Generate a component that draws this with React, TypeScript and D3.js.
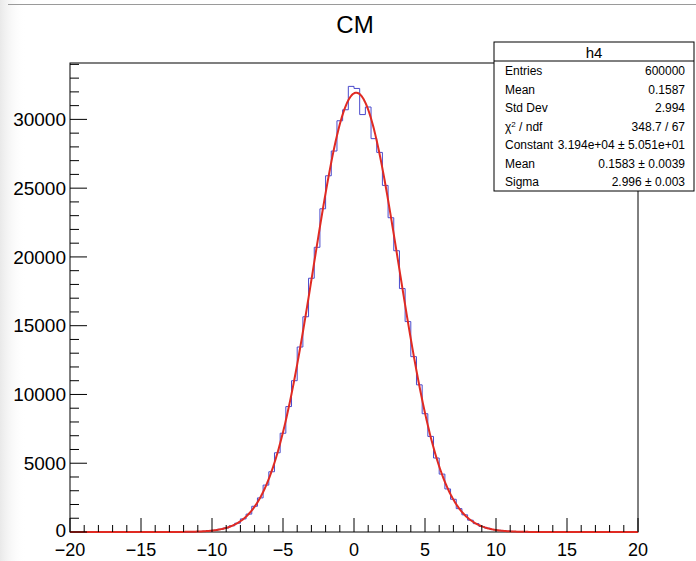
import React from "react";
import * as d3 from "d3";

// Histogram h4: 100 bins from -20 to 20 (bin width 0.4)
const xMin = -20;
const xMax = 20;
const binWidth = 0.4;
const binCounts: number[] = [
  0, 0, 0, 0, 0, 0, 0, 0, 0, 0,
  0, 0, 0, 0, 0, 0, 1, 2, 4, 6,
  12, 18, 33, 49, 84, 124, 201, 296, 452, 640,
  951, 1300, 1870, 2480, 3410, 4380, 5760, 7180, 9120, 11000,
  13450, 15650, 18450, 20700, 23500, 25900, 27700, 29900, 30700, 32400,
  32250, 30350, 30900, 28600, 27600, 25200, 22850, 20450, 17700, 15300,
  12750, 10700, 8600, 6950, 5380, 4210, 3130, 2380, 1700, 1250,
  860, 610, 400, 280, 176, 118, 70, 48, 27, 18,
  9, 5, 3, 2, 1, 0, 0, 0, 0, 0,
  0, 0, 0, 0, 0, 0, 0, 0, 0, 0,
];

// Gaussian fit parameters (from the stats box)
const fitConstant = 31940;
const fitMean = 0.1583;
const fitSigma = 2.996;

const yMax = 34100;
const xTickLabels = [-20, -15, -10, -5, 0, 5, 10, 15, 20];
const yTickLabels = [0, 5000, 10000, 15000, 20000, 25000, 30000];

const statLabels = ["Entries", "Mean", "Std Dev", "χ2", "Constant", "Mean", "Sigma"];
const statValues = [
  "600000",
  "0.1587",
  "2.994",
  "348.7 / 67",
  "3.194e+04 ± 5.051e+01",
  "0.1583 ± 0.0039",
  "2.996 ± 0.003",
];

const W = 696;
const H = 561;
const FL = 70;
const FR = 638;
const FT = 63;
const FB = 532;
const FONT = "'Liberation Sans', Arial, Helvetica, sans-serif";

export default function App() {
  const x = d3.scaleLinear().domain([xMin, xMax]).range([FL, FR]);
  const y = d3.scaleLinear().domain([0, yMax]).range([FB, FT]);

  const stepPts: [number, number][] = [];
  binCounts.forEach((c, i) => {
    const x0 = xMin + i * binWidth;
    const x1 = x0 + binWidth;
    stepPts.push([x(x0), y(c)]);
    stepPts.push([x(x1), y(c)]);
  });
  const histPath = d3.line()(stepPts) || "";

  const fitPts: [number, number][] = d3
    .range(0, 801)
    .map((k) => xMin + ((xMax - xMin) * k) / 800)
    .map((v) => [
      x(v),
      y(fitConstant * Math.exp(-0.5 * ((v - fitMean) / fitSigma) ** 2)),
    ]);
  const fitPath = d3.line().curve(d3.curveLinear)(fitPts) || "";

  const xMinor = d3.range(xMin, xMax + 0.001, 1);
  const yMinor = d3.range(0, yMax, 1000);

  const fmt = (v: number) => (v < 0 ? "\u2212" + Math.abs(v) : String(v));

  const boxL = 494;
  const boxR = 694;
  const boxT = 42;
  const boxB = 191;
  const rowY0 = 71;
  const rowDy = 18.5;

  return (
    <svg
      width={W}
      height={H}
      style={{ position: "absolute", left: 0, top: 0, background: "#fff" }}
      fontFamily={FONT}
    >
      <defs>
        <linearGradient id="leftfade" x1="0" x2="1" y1="0" y2="0">
          <stop offset="0" stopColor="#e9e9e9" />
          <stop offset="1" stopColor="#ffffff" stopOpacity="0" />
        </linearGradient>
      </defs>
      <rect x={0} y={0} width={W} height={H} fill="#fff" />
      <rect x={0} y={0} width={26} height={H} fill="url(#leftfade)" />
      <line x1={8} x2={W} y1={4.5} y2={4.5} stroke="#9a9a9a" strokeWidth={1} />

      {/* Title */}
      <text x={355} y={33} fontSize={24} textAnchor="middle" fill="#000">
        CM
      </text>

      {/* Frame */}
      <rect x={FL} y={FT} width={FR - FL} height={FB - FT} fill="none" stroke="#000" strokeWidth={1} />

      {/* Histogram */}
      <path d={histPath} fill="none" stroke="#4a4acc" strokeWidth={1} />
      {/* Fit */}
      <path d={fitPath} fill="none" stroke="#e02a22" strokeWidth={2} />

      {/* X axis ticks */}
      {xMinor.map((v) => {
        const major = Math.abs(v % 5) < 1e-9;
        return (
          <line
            key={"xt" + v}
            x1={x(v)}
            x2={x(v)}
            y1={FB}
            y2={FB - (major ? 14 : 7)}
            stroke="#000"
            strokeWidth={1}
          />
        );
      })}
      {xTickLabels.map((v) => (
        <text key={"xl" + v} x={x(v)} y={556} fontSize={18} textAnchor="middle" fill="#000">
          {fmt(v)}
        </text>
      ))}

      {/* Y axis ticks */}
      {yMinor.map((v) => {
        const major = v % 5000 === 0;
        return (
          <line
            key={"yt" + v}
            x1={FL}
            x2={FL + (major ? 17 : 9)}
            y1={y(v)}
            y2={y(v)}
            stroke="#000"
            strokeWidth={1}
          />
        );
      })}
      {yTickLabels.map((v) => (
        <text
          key={"yl" + v}
          x={66}
          y={y(v)}
          dy={v === 0 ? "0.25em" : "0.35em"}
          fontSize={19}
          textAnchor="end"
          fill="#000"
        >
          {fmt(v)}
        </text>
      ))}

      {/* Stats box */}
      <rect x={boxL} y={boxT} width={boxR - boxL} height={boxB - boxT} fill="#fff" stroke="#000" strokeWidth={1} />
      <line x1={boxL} x2={boxR} y1={61} y2={61} stroke="#000" strokeWidth={1} />
      <text x={(boxL + boxR) / 2} y={53} dy="0.35em" fontSize={15} textAnchor="middle" fill="#000">
        h4
      </text>
      {statLabels.map((lab, i) => (
        <text key={"sl" + i} x={505} y={rowY0 + i * rowDy} dy="0.35em" fontSize={12} fill="#000">
          {lab === "χ2" ? (
            <>
              {"χ"}
              <tspan fontSize={8} dy="-0.5em">2</tspan>
              <tspan dy="0.35em">{" / ndf"}</tspan>
            </>
          ) : (
            lab
          )}
        </text>
      ))}
      {statValues.map((val, i) => (
        <text
          key={"sv" + i}
          x={685}
          y={rowY0 + i * rowDy}
          dy="0.35em"
          fontSize={12}
          textAnchor="end"
          fill="#000"
        >
          {val}
        </text>
      ))}
    </svg>
  );
}
